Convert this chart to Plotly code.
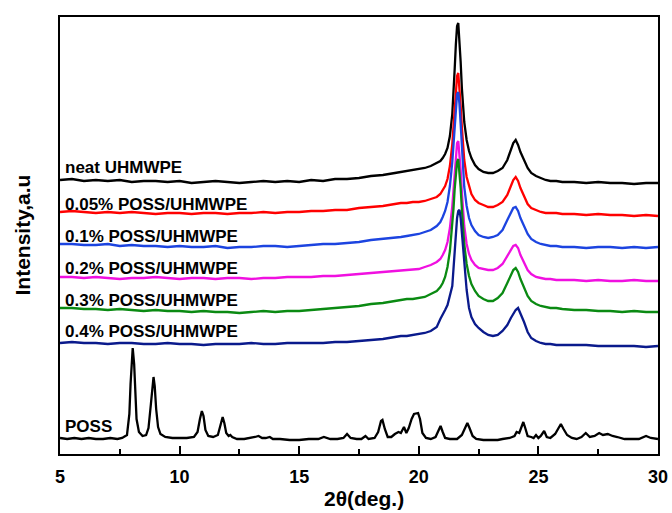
import plotly.graph_objects as go

# ---------------- data ----------------
two_theta_pe = [5, 5.5, 6, 6.5, 7, 7.5, 8, 8.5, 9, 9.5, 10, 10.5, 11, 11.5, 12, 12.5, 13, 13.5, 14, 14.5,
                15, 15.5, 16, 16.5, 17, 17.5, 18, 18.5, 19,
                19.25, 19.5, 19.75, 20.0, 20.25, 20.5, 20.75,
                20.9, 21.0, 21.1, 21.2, 21.3, 21.4,
                21.45, 21.5, 21.55, 21.6, 21.65, 21.7, 21.75, 21.8, 21.85, 21.9,
                22.0, 22.1, 22.2, 22.35, 22.5, 22.7, 22.9, 23.1, 23.3, 23.5, 23.7, 23.85, 23.95, 24.05,
                24.15, 24.25, 24.4, 24.55, 24.7, 24.9, 25.1, 25.3, 25.5, 25.75, 26.0,
                26.5, 27, 27.5, 28, 28.5, 29, 29.5, 30]

neat_uhmwpe = [274, 275, 273, 274, 273, 274, 272, 273, 273, 272, 273, 271, 272, 273, 272, 271, 272, 273, 272, 273,
               272, 274, 273, 275, 275, 276, 278, 279, 281,
               282, 283, 284, 285, 286, 288, 291,
               293, 296, 300, 306, 318, 340,
               358, 385, 410, 428, 431, 415, 392, 366, 346, 332,
               314, 303, 296, 289, 285, 282, 281, 281, 283, 286, 294, 303, 311, 314,
               309, 302, 293, 286, 281, 278, 276, 274, 273, 273, 272,
               272, 271, 272, 271, 271, 270, 271, 271]

poss_005 = [242, 243, 242, 241, 242, 241, 242, 241, 240, 241, 241, 240, 241, 241, 240, 241, 241, 242, 241, 242,
            242, 243, 243, 244, 244, 246, 247, 248, 250,
            251, 251, 252, 252, 253, 255, 257,
            260, 264, 268, 275, 288, 310,
            328, 350, 368, 378, 381, 368, 348, 327, 308, 294,
            277, 267, 260, 254, 251, 249, 247, 247, 249, 252, 259, 268, 274, 277,
            273, 266, 257, 250, 246, 244, 242, 241, 241, 241, 240,
            240, 239, 240, 239, 239, 238, 239, 238]

poss_01 = [210, 210, 209, 209, 210, 208, 209, 208, 208, 207, 208, 207, 207, 208, 206, 207, 207, 208, 208, 207,
           208, 209, 210, 210, 211, 212, 214, 215, 216,
           217, 218, 219, 220, 222, 224, 228,
           232, 237, 243, 252, 268, 292,
           310, 332, 350, 360, 362, 350, 330, 305, 285, 267,
           248, 236, 229, 223, 219, 217, 216, 217, 219, 224, 234, 242, 246, 247,
           243, 236, 227, 220, 215, 212, 210, 209, 208, 208, 207,
           207, 206, 207, 207, 206, 207, 206, 207]

poss_02 = [177, 177, 176, 177, 176, 175, 176, 176, 177, 176, 175, 176, 176, 175, 176, 176, 175, 176, 176, 177,
           177, 177, 178, 178, 179, 180, 181, 182, 183,
           184, 184, 185, 185, 187, 189, 192,
           195, 199, 204, 212, 226, 248,
           265, 285, 302, 311, 313, 302, 284, 262, 243, 228,
           210, 200, 194, 189, 186, 185, 184, 184, 186, 190, 198, 205, 208, 209,
           206, 199, 191, 184, 180, 177, 176, 175, 175, 174, 174,
           174, 173, 174, 173, 173, 174, 173, 173]

poss_03 = [146, 146, 145, 145, 144, 145, 144, 143, 144, 143, 143, 142, 143, 142, 142, 141, 142, 143, 142, 143,
           143, 144, 145, 146, 147, 148, 150, 151, 153,
           154, 155, 155, 156, 157, 160, 163,
           167, 171, 177, 187, 203, 228,
           245, 265, 283, 292, 295, 284, 266, 245, 226, 210,
           190, 178, 170, 163, 158, 155, 153, 153, 156, 161, 171, 180, 184, 186,
           182, 175, 166, 158, 153, 150, 148, 147, 146, 146, 145,
           144, 144, 143, 143, 142, 143, 142, 142]

poss_04 = [111, 112, 111, 111, 110, 111, 111, 110, 110, 111, 110, 110, 109, 110, 110, 110, 111, 110, 110, 111,
           111, 111, 111, 112, 112, 113, 114, 115, 117,
           118, 118, 119, 120, 121, 123, 127,
           135, 139, 144, 149, 158, 168,
           185, 203, 222, 236, 243, 244, 236, 222, 205, 188,
           164, 146, 137, 130, 126, 122, 119, 118, 119, 123, 129, 136, 140, 144,
           146, 141, 132, 122, 116, 113, 111, 110, 110, 109, 109,
           109, 109, 108, 108, 108, 108, 107, 108]

two_theta_poss = [5.0, 5.3, 5.6, 5.9, 6.2, 6.5, 6.8, 7.1, 7.4, 7.6, 7.8, 7.9, 7.95, 8.0, 8.04, 8.1, 8.15, 8.2, 8.3,
                  8.45, 8.6, 8.7, 8.8, 8.87, 8.91, 8.96, 9.02, 9.1, 9.2, 9.4, 9.7, 10.0, 10.3, 10.6, 10.75,
                  10.85, 10.93, 11.0, 11.08, 11.2, 11.4, 11.6, 11.7, 11.8, 11.87, 11.95, 12.05, 12.12, 12.2,
                  12.4, 12.7, 13.0, 13.15, 13.3, 13.45, 13.6, 13.77, 13.9, 14.2, 14.6, 15.0, 15.4, 15.8,
                  16.03, 16.3, 16.6, 16.85, 17.0, 17.15, 17.4, 17.6, 17.77, 17.9, 18.15, 18.3, 18.42, 18.48,
                  18.58, 18.7, 18.85, 19.0, 19.15, 19.25, 19.38, 19.48, 19.58, 19.7, 19.8, 19.9, 19.97,
                  20.05, 20.15, 20.3, 20.5, 20.7, 20.8, 20.91, 21.0, 21.1, 21.3, 21.6, 21.8, 21.95, 22.03,
                  22.12, 22.25, 22.4, 22.7, 23.0, 23.3, 23.5, 23.8, 24.0, 24.09, 24.2, 24.3, 24.37, 24.45,
                  24.55, 24.7, 24.8, 24.9, 25.0, 25.1, 25.24, 25.35, 25.5, 25.7, 25.85, 25.94, 26.05, 26.2,
                  26.4, 26.6, 26.8, 26.98, 27.15, 27.35, 27.54, 27.7, 27.9, 28.1, 28.3, 28.6, 28.9, 29.2,
                  29.5, 29.7, 30.0]

poss = [16, 15, 16, 15, 16, 15, 15, 16, 15, 16, 19, 40, 70, 98, 106, 90, 60, 35, 22,
        18, 19, 26, 50, 72, 77, 68, 45, 27, 20, 17, 16, 16, 16, 17, 22,
        35, 43, 38, 24, 18, 17, 19, 27, 37, 31, 21, 18, 19, 17,
        15, 15, 16, 17, 18, 16, 16, 17, 15, 15, 14, 14, 15, 15,
        17, 15, 15, 16, 20, 16, 15, 15, 18, 15, 16, 22, 33, 34,
        25, 17, 17, 20, 22, 21, 27, 21, 26, 35, 40, 41, 41,
        35, 21, 16, 15, 17, 22, 28, 22, 16, 15, 15, 19, 28, 31,
        26, 18, 15, 14, 14, 14, 15, 16, 18, 22, 21, 27, 32, 26,
        18, 17, 16, 19, 16, 18, 23, 17, 16, 20, 27, 30, 25, 19,
        16, 15, 17, 21, 17, 18, 21, 19, 20, 18, 17, 15, 15, 15,
        18, 16, 15]

series_names = ["neat UHMWPE", "0.05% POSS/UHMWPE", "0.1% POSS/UHMWPE",
                "0.2% POSS/UHMWPE", "0.3% POSS/UHMWPE", "0.4% POSS/UHMWPE", "POSS"]
x_ticks = [5, 10, 15, 20, 25, 30]

# ---------------- styling ----------------
FONT = "Liberation Sans, Arial, Helvetica, sans-serif"
colors = ["#000000", "#ff0000", "#1c44e0", "#f010e0", "#0a8a12", "#0a1a8c", "#000000"]
pe_series = [neat_uhmwpe, poss_005, poss_01, poss_02, poss_03, poss_04]

fig = go.Figure()
for name, ys, c in zip(series_names[:6], pe_series, colors[:6]):
    fig.add_trace(go.Scatter(x=two_theta_pe, y=ys, mode="lines", name=name,
                             line=dict(color=c, width=2.3), showlegend=False))
fig.add_trace(go.Scatter(x=two_theta_poss, y=poss, mode="lines", name=series_names[6],
                         line=dict(color=colors[6], width=2.3), showlegend=False))

# label positions (x in data units, y in data units)
label_y = [286.7, 249.7, 218, 185.7, 154, 122.3, 27.3]
annotations = []
for name, yy in zip(series_names, label_y):
    annotations.append(dict(x=5.12, y=yy, xref="x", yref="y", text=name, showarrow=False,
                            xanchor="left", yanchor="middle",
                            font=dict(family=FONT, size=17, color="black", weight="bold")))
annotations.append(dict(x=-0.0635, y=0.5, xref="paper", yref="paper", text="Intensity,a.u",
                        textangle=-90, showarrow=False, xanchor="center", yanchor="middle",
                        font=dict(family=FONT, size=21, color="black", weight="bold")))
annotations.append(dict(x=0.508, y=-0.1007, xref="paper", yref="paper", text="2θ(deg.)",
                        showarrow=False, xanchor="center", yanchor="middle",
                        font=dict(family=FONT, size=21, color="black", weight="bold")))

fig.update_layout(
    width=672, height=513,
    margin=dict(l=60, r=14, t=17, b=59, pad=0, autoexpand=False),
    paper_bgcolor="white", plot_bgcolor="white",
    annotations=annotations,
    xaxis=dict(range=[5, 30], tickmode="array", tickvals=x_ticks, ticktext=[str(v) for v in x_ticks],
               ticks="inside", ticklen=8, tickwidth=2, tickcolor="black",
               showline=True, linewidth=2, linecolor="black", mirror=True,
               showgrid=False, zeroline=False, automargin=False, ticklabelstandoff=5,
               tickfont=dict(family=FONT, size=18, color="black", weight="bold"),
               minor=dict(ticks="inside", ticklen=5, tickwidth=2, tickcolor="black",
                          tickmode="linear", tick0=7.5, dtick=5, showgrid=False)),
    yaxis=dict(range=[0, 437], showticklabels=False, ticks="", automargin=False,
               showline=True, linewidth=2, linecolor="black", mirror=True,
               showgrid=False, zeroline=False),
)

fig.write_html("out.html")
